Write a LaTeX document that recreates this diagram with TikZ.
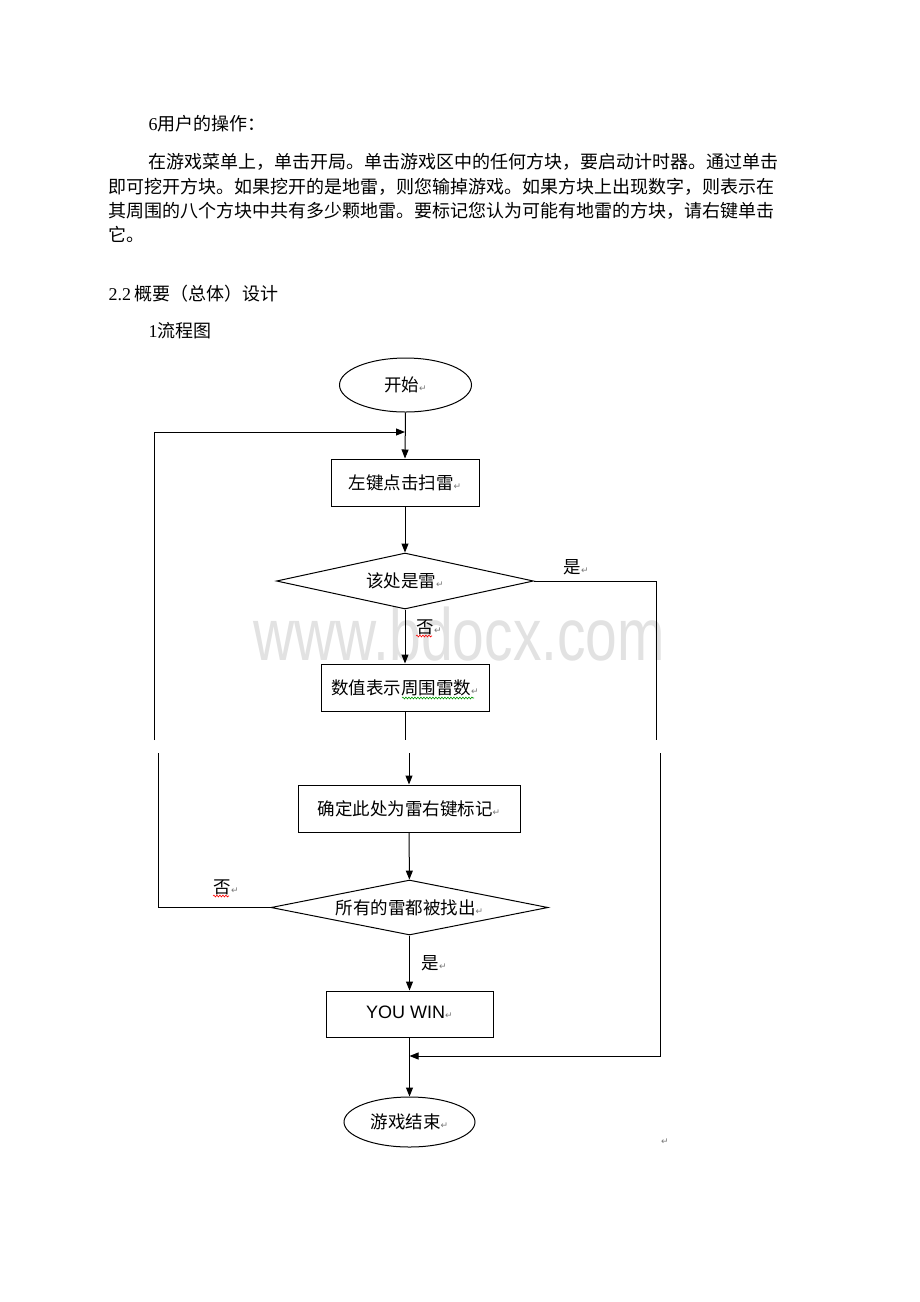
\documentclass[tikz,border=0pt]{standalone}
\usepackage{fontspec}
\setmainfont{Liberation Serif}
\newfontfamily\cjk{Noto Sans CJK SC}
\newfontfamily\djv{DejaVu Sans}
\newfontfamily\arl{Liberation Sans}
\usetikzlibrary{arrows.meta,shapes.geometric,decorations.pathmorphing}
\definecolor{retgray}{RGB}{120,120,120}
\definecolor{wmgray}{RGB}{226,226,226}
\newcommand\ret{{\djv\fontsize{9}{9}\selectfont\color{retgray}↵}}
\begin{document}
\begin{tikzpicture}[x=1pt,y=-1pt,
  line width=1pt,
  arr/.style={-{Triangle[length=9pt,width=7pt]}},
  shp/.style={draw, inner sep=0pt, font=\cjk\fontsize{17.5}{18}\selectfont},
  proc/.style={shp, rectangle},
  term/.style={shp, ellipse},
  dec/.style={shp, diamond, shape aspect=5},
  body/.style={anchor=base west, inner sep=0pt, font=\fontsize{18}{22}\selectfont},
  lbl/.style={anchor=west, inner sep=0pt, font=\cjk\fontsize{17.5}{18}\selectfont},
  squig/.style={decorate, decoration={snake, amplitude=0.9pt, segment length=3pt}, line width=0.6pt}
]
\useasboundingbox (0,0) rectangle (920,1302);
\fill[white] (0,0) rectangle (920,1302);

% watermark
\node[anchor=base west, inner sep=0pt, text=wmgray, font=\arl\fontsize{74}{74}\selectfont, xscale=0.77] (wm) at (253,660) {www.bdocx.com};

% body text
\node[body] (t1) at (148,130) {6{\cjk 用户的操作：}};
\node[body] (t2) at (148,168) {\cjk 在游戏菜单上，单击开局。单击游戏区中的任何方块，要启动计时器。通过单击};
\node[body] (t3) at (108,193) {\cjk 即可挖开方块。如果挖开的是地雷，则您输掉游戏。如果方块上出现数字，则表示在};
\node[body] (t4) at (108,217) {\cjk 其周围的八个方块中共有多少颗地雷。要标记您认为可能有地雷的方块，请右键单击};
\node[body] (t5) at (108,241) {\cjk 它。};
\node[body] (t6) at (108,300) {2.2\,{\cjk 概要（总体）设计}};
\node[body] (t7) at (148,337) {1{\cjk 流程图}};

% flowchart nodes
\node[term, minimum width=132pt, minimum height=54pt] (start) at (405.5,385) {开始\ret};
\node[proc, minimum width=148pt, minimum height=47pt] (b1) at (405,482.5) {左键点击扫雷\ret};
\node[dec, minimum width=257pt, minimum height=56pt] (d1) at (405,581) {该处是雷\ret};
\node[proc, minimum width=168pt, minimum height=47pt] (b2) at (405,687.5) {数值表示周围雷数\ret};
\node[proc, minimum width=222pt, minimum height=47pt] (b3) at (409,808.5) {确定此处为雷右键标记\ret};
\node[dec, minimum width=277pt, minimum height=55pt] (d2) at (409.5,907.5) {所有的雷都被找出\ret};
\node[proc, minimum width=167pt, minimum height=46pt, font=\arl\fontsize{18}{18}\selectfont] (b4) at (409.5,1014) {\raisebox{4pt}{YOU WIN\ret}};
\node[term, minimum width=131pt, minimum height=50pt] (end) at (409.5,1122) {游戏结束\ret};

% labels
\node[lbl] (yes1) at (563,567) {是\ret};
\node[lbl] (no1) at (416,627) {否\ret};
\node[lbl] (no2) at (213,887) {否\ret};
\node[lbl] (yes2) at (421,963) {是\ret};
\node[inner sep=0pt] (pm) at (665,1142) {\ret};

% spell-check marks
\draw[squig, red] (416,636) -- (432,636);
\draw[squig, red] (213,896) -- (229,896);
\draw[squig, green!60!black] (402,698) -- (474,698);

% coordinates
\coordinate (join) at (405,432);
\coordinate (gapLU) at (154.5,740);
\coordinate (gapLL) at (158,753);
\coordinate (gapCU) at (405,740);
\coordinate (gapCL) at (409,753);
\coordinate (gapRU) at (656,740);
\coordinate (gapRL) at (660,753);
\coordinate (merge) at (409.5,1056);

% connectors
\draw[arr] (start.south) -- (b1.north);
\draw[arr] (gapLU) |- (join);
\draw[arr] (b1) -- (d1);
\draw (d1.east) -| (gapRU);
\draw[arr] (d1) -- (b2);
\draw (b2) -- (gapCU);
\draw[arr] (gapCL) -- (b3);
\draw[arr] (b3) -- (d2);
\draw (d2.west) -| (gapLL);
\draw[arr] (d2) -- (b4);
\draw[arr] (b4) -- (end);
\draw[arr] (gapRL) |- (merge);
\end{tikzpicture}
\end{document}
